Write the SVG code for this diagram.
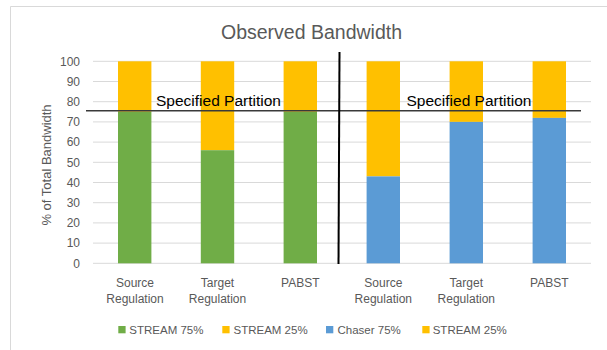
<svg xmlns="http://www.w3.org/2000/svg" width="607" height="350" viewBox="0 0 607 350">
<style>
text{font-family:"Liberation Sans",Arial,sans-serif;fill:#595959}
.tick{font-size:12px;text-anchor:end}
.cat{font-size:12px;text-anchor:middle}
.leg{font-size:11.5px}
.grid{stroke:#d9d9d9;stroke-width:1}
.g{fill:#70ad47}.y{fill:#ffc000}.b{fill:#5b9bd5}
.part{font-size:15.5px;fill:#000;text-anchor:middle}
</style>
<rect x="0" y="0" width="607" height="350" fill="#fff"/>
<path d="M10.5 350V6.5H607" fill="none" stroke="#d9d9d9" stroke-width="1"/>
<text x="311.5" y="38.5" font-size="19.5" text-anchor="middle">Observed Bandwidth</text>
<g id="grid">
<path class="grid" d="M93 61.3H591M93 81.5H591M93 101.7H591M93 121.9H591M93 142.1H591M93 162.3H591M93 182.5H591M93 202.7H591M93 222.9H591M93 243.1H591M93 263.3H591"/>
</g>
<g id="yaxis">
<text class="tick" x="80" y="65.5">100</text>
<text class="tick" x="80" y="85.7">90</text>
<text class="tick" x="80" y="105.9">80</text>
<text class="tick" x="80" y="126.1">70</text>
<text class="tick" x="80" y="146.3">60</text>
<text class="tick" x="80" y="166.5">50</text>
<text class="tick" x="80" y="186.7">40</text>
<text class="tick" x="80" y="206.9">30</text>
<text class="tick" x="80" y="227.1">20</text>
<text class="tick" x="80" y="247.3">10</text>
<text class="tick" x="80" y="267.5">0</text>
<text x="0" y="0" font-size="13" text-anchor="middle" transform="translate(50.5 165) rotate(-90)">% of Total Bandwidth</text>
</g>
<g id="bar-left-source">
<rect class="y" x="118" y="61.3" width="33.4" height="50.5"/>
<rect class="g" x="118" y="111.8" width="33.4" height="151.5"/>
</g>
<g id="bar-left-target">
<rect class="y" x="200.8" y="61.3" width="33.4" height="88.9"/>
<rect class="g" x="200.8" y="150.2" width="33.4" height="113.1"/>
</g>
<g id="bar-left-pabst">
<rect class="y" x="283.6" y="61.3" width="33.4" height="50.5"/>
<rect class="g" x="283.6" y="111.8" width="33.4" height="151.5"/>
</g>
<g id="bar-right-source">
<rect class="y" x="366.6" y="61.3" width="33.4" height="115.1"/>
<rect class="b" x="366.6" y="176.4" width="33.4" height="86.9"/>
</g>
<g id="bar-right-target">
<rect class="y" x="449.6" y="61.3" width="33.4" height="60.6"/>
<rect class="b" x="449.6" y="121.9" width="33.4" height="141.4"/>
</g>
<g id="bar-right-pabst">
<rect class="y" x="532.6" y="61.3" width="33.4" height="56.6"/>
<rect class="b" x="532.6" y="117.9" width="33.4" height="145.4"/>
</g>
<g id="connectors">
<line x1="86" y1="110.7" x2="581" y2="110.7" stroke="#3a3a3a" stroke-width="1.5"/>
<line x1="339.5" y1="52" x2="338.5" y2="264" stroke="#000" stroke-width="2"/>
</g>
<g id="partition-labels">
<text class="part" x="218.5" y="105.5">Specified Partition</text>
<text class="part" x="469" y="105.5">Specified Partition</text>
</g>
<g id="categories">
<text class="cat" x="135" y="287">Source</text>
<text class="cat" x="135" y="303">Regulation</text>
<text class="cat" x="217.5" y="287">Target</text>
<text class="cat" x="217.5" y="303">Regulation</text>
<text class="cat" x="300.3" y="287">PABST</text>
<text class="cat" x="383.3" y="287">Source</text>
<text class="cat" x="383.3" y="303">Regulation</text>
<text class="cat" x="466.3" y="287">Target</text>
<text class="cat" x="466.3" y="303">Regulation</text>
<text class="cat" x="549.3" y="287">PABST</text>
</g>
<g id="legend">
<rect class="g" x="118.3" y="326" width="7.3" height="7.3"/>
<text class="leg" x="129.3" y="334">STREAM 75%</text>
<rect class="y" x="222.3" y="326" width="7.3" height="7.3"/>
<text class="leg" x="233.5" y="334">STREAM 25%</text>
<rect class="b" x="326" y="326" width="7.3" height="7.3"/>
<text class="leg" x="337.5" y="334">Chaser 75%</text>
<rect class="y" x="422.3" y="326" width="7.3" height="7.3"/>
<text class="leg" x="432.7" y="334">STREAM 25%</text>
</g>
</svg>
